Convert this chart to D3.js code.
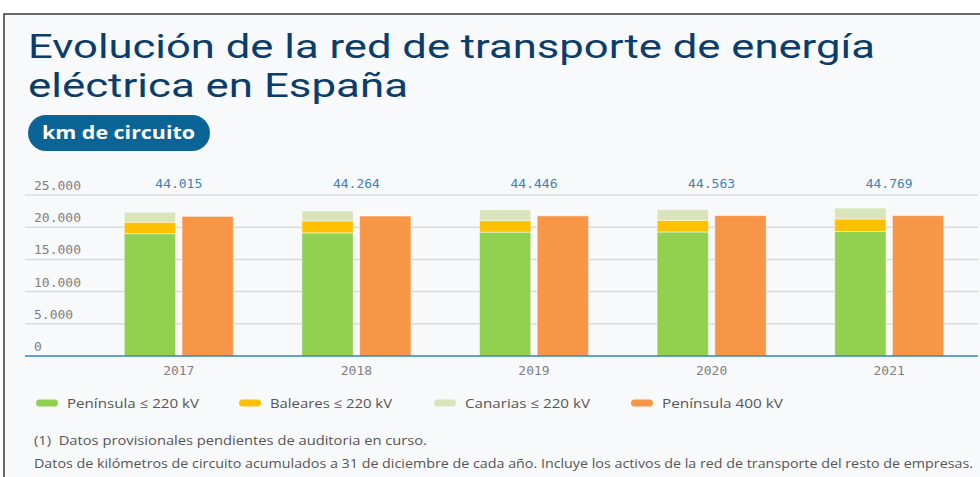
<!DOCTYPE html>
<html>
<head>
<meta charset="utf-8">
<script src="https://cdn.jsdelivr.net/npm/d3@7"></script>
<style>
  body { margin: 0; background: #fff; }
  svg { display: block; }
</style>
</head>
<body>
<svg id="chart"></svg>
<script>
const years = ['2017', '2018', '2019', '2020', '2021'];
const peninsula220 = [19000, 19120, 19230, 19260, 19330];
const baleares220 = [1780, 1850, 1790, 1810, 1960];
const canarias220 = [1560, 1560, 1670, 1690, 1680];
const peninsula400 = [21675, 21734, 21756, 21803, 21799];
const totals = [44015, 44264, 44446, 44563, 44769];
const yTicks = [0, 5000, 10000, 15000, 20000, 25000];

const seriesNames = ['Península ≤ 220 kV', 'Baleares ≤ 220 kV', 'Canarias ≤ 220 kV', 'Península 400 kV'];
const colors = ['#92d050', '#ffc000', '#d8e4bc', '#f79646'];

const width = 980;
const height = 477;

const es = d3.formatLocale({ decimal: ',', thousands: '.', grouping: [3], currency: ['', ' €'] });
const fmt = es.format(',');

const svg = d3.select('#chart')
  .attr('width', width)
  .attr('height', height);

// panel with border on top / left
svg.append('rect')
  .attr('x', 4).attr('y', 14)
  .attr('width', width - 4).attr('height', height - 14)
  .attr('fill', '#f8f9fb');
svg.append('path')
  .attr('d', `M4,${height} L4,14 L${width},14`)
  .attr('fill', 'none')
  .attr('stroke', '#3a3a3a')
  .attr('stroke-width', 1.5);

// title (the source is a bit stretched sideways, so fix the widths)
const titleLines = [
  ['Evolución de la red de transporte de energía', 58, 847],
  ['eléctrica en España', 97, 380]
];
svg.selectAll('.title')
  .data(titleLines)
  .enter().append('text')
  .attr('class', 'title')
  .attr('x', 28)
  .attr('y', d => d[1])
  .attr('textLength', d => d[2])
  .attr('lengthAdjust', 'spacingAndGlyphs')
  .attr('font-family', 'Roboto, sans-serif')
  .attr('font-size', 33)
  .attr('fill', '#0b3d6b')
  .text(d => d[0]);

// pill
svg.append('rect')
  .attr('x', 28).attr('y', 115)
  .attr('width', 182).attr('height', 36)
  .attr('rx', 18)
  .attr('fill', '#0b6496');
svg.append('text')
  .attr('x', 42).attr('y', 139)
  .attr('textLength', 153)
  .attr('lengthAdjust', 'spacingAndGlyphs')
  .attr('font-family', '"Open Sans", sans-serif')
  .attr('font-weight', 700)
  .attr('font-size', 17)
  .attr('fill', '#fff')
  .text('km de circuito');

// scales
const y = d3.scaleLinear()
  .domain([0, 25000])
  .range([356, 195]);

const x0 = d3.scaleBand()
  .domain(years)
  .range([90, 978])
  .paddingInner(0.386)
  .paddingOuter(0.193);

const x1 = d3.scaleBand()
  .domain(['stack', 'p400'])
  .range([0, x0.bandwidth()])
  .paddingInner(0.11);

// grid + y labels
const grid = svg.append('g');
grid.selectAll('line')
  .data(yTicks.slice(1))
  .enter().append('line')
  .attr('x1', 25).attr('x2', 978)
  .attr('y1', d => y(d)).attr('y2', d => y(d))
  .attr('stroke', '#dadbdd')
  .attr('stroke-width', 1.5);

grid.selectAll('text')
  .data(yTicks)
  .enter().append('text')
  .attr('x', 34)
  .attr('y', d => y(d) - 5)
  .attr('font-family', '"DejaVu Sans Mono", monospace')
  .attr('font-size', 13)
  .attr('fill', '#808080')
  .text(d => fmt(d));

// bars
const rows = years.map((yr, i) => ({
  year: yr,
  stack: [peninsula220[i], baleares220[i], canarias220[i]],
  p400: peninsula400[i],
  total: totals[i]
}));

const groups = svg.selectAll('.year')
  .data(rows)
  .enter().append('g')
  .attr('class', 'year')
  .attr('transform', d => `translate(${x0(d.year)},0)`);

groups.each(function(d) {
  const g = d3.select(this);
  let base = 0;
  d.stack.forEach((v, k) => {
    g.append('rect')
      .attr('x', x1('stack'))
      .attr('width', x1.bandwidth())
      .attr('y', y(base + v))
      .attr('height', y(base) - y(base + v))
      .attr('fill', colors[k])
      .attr('stroke', '#fff')
      .attr('stroke-opacity', 0.5)
      .attr('stroke-width', 1);
    base += v;
  });
  g.append('rect')
    .attr('x', x1('p400'))
    .attr('width', x1.bandwidth())
    .attr('y', y(d.p400))
    .attr('height', y(0) - y(d.p400))
    .attr('fill', colors[3])
    .attr('stroke', '#fff')
    .attr('stroke-opacity', 0.5)
    .attr('stroke-width', 1);
});

// totals on top
groups.append('text')
  .attr('x', x0.bandwidth() / 2)
  .attr('y', 188)
  .attr('text-anchor', 'middle')
  .attr('font-family', '"DejaVu Sans Mono", monospace')
  .attr('font-size', 13)
  .attr('fill', '#3f82b9')
  .text(d => fmt(d.total));

// x axis
svg.append('line')
  .attr('x1', 25).attr('x2', 978)
  .attr('y1', y(0)).attr('y2', y(0))
  .attr('stroke', '#2f83bd')
  .attr('stroke-width', 1.5);

groups.append('text')
  .attr('x', x0.bandwidth() / 2)
  .attr('y', 375)
  .attr('text-anchor', 'middle')
  .attr('font-family', '"DejaVu Sans Mono", monospace')
  .attr('font-size', 13)
  .attr('fill', '#808080')
  .text(d => d.year);

// legend
const legendX = [36, 239, 434, 631];
const legendW = [132, 122, 125, 121];
const legend = svg.selectAll('.leg')
  .data(seriesNames)
  .enter().append('g')
  .attr('class', 'leg')
  .attr('transform', (d, i) => `translate(${legendX[i]},403)`);
legend.append('rect')
  .attr('x', 0).attr('y', -3.5)
  .attr('width', 22).attr('height', 7)
  .attr('rx', 3.5)
  .attr('fill', (d, i) => colors[i]);
legend.append('text')
  .attr('x', 31).attr('y', 5)
  .attr('textLength', (d, i) => legendW[i])
  .attr('lengthAdjust', 'spacingAndGlyphs')
  .attr('font-family', '"Open Sans", sans-serif')
  .attr('font-size', 13)
  .attr('fill', '#555')
  .text(d => d);

// notes
const notes = [
  '(1)  Datos provisionales pendientes de auditoria en curso.',
  'Datos de kilómetros de circuito acumulados a 31 de diciembre de cada año. Incluye los activos de la red de transporte del resto de empresas.'
];
const notesW = [393, 939];
svg.selectAll('.note')
  .data(notes)
  .enter().append('text')
  .attr('class', 'note')
  .attr('x', 34)
  .attr('y', (d, i) => 445 + i * 23)
  .attr('textLength', (d, i) => notesW[i])
  .attr('lengthAdjust', 'spacingAndGlyphs')
  .attr('font-family', '"Open Sans", sans-serif')
  .attr('font-size', 12.5)
  .attr('fill', '#555')
  .style('white-space', 'pre')
  .text(d => d);
</script>
</body>
</html>
